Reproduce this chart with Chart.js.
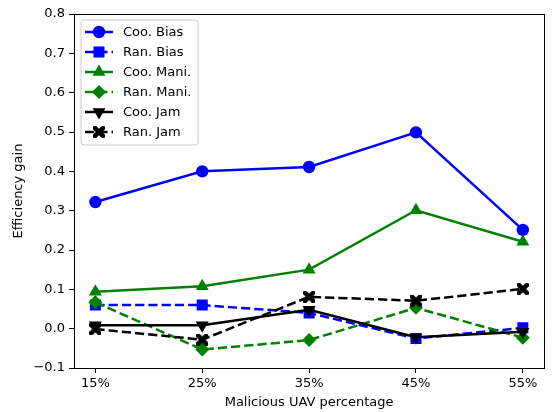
<!DOCTYPE html>
<html>
<head>
<meta charset="utf-8">
<script src="https://cdn.jsdelivr.net/npm/chart.js@4/dist/chart.umd.min.js"></script>
<style>
  html, body { margin: 0; padding: 0; background: #fff; }
  #wrap { width: 552px; height: 412px; }
</style>
</head>
<body>
<div id="wrap"><canvas id="c" width="552" height="412"></canvas></div>
<script>
// Malicious UAV percentage categories and efficiency gains per attack type
const categories = ['15%', '25%', '35%', '45%', '55%'];
const cooBias = [0.322, 0.400, 0.411, 0.499, 0.251];
const ranBias = [0.060, 0.060, 0.040, -0.025, 0.002];
const cooMani = [0.094, 0.108, 0.150, 0.301, 0.221];
const ranMani = [0.067, -0.053, -0.029, 0.053, -0.023];
const cooJam = [0.009, 0.009, 0.048, -0.022, -0.008];
const ranJam = [-0.001, -0.028, 0.081, 0.071, 0.101];
const yTickValues = [-0.1, 0, 0.1, 0.2, 0.3, 0.4, 0.5, 0.6, 0.7, 0.8];

const FONT = '"DejaVu Sans", sans-serif';
const DASH = [9.25, 4];
const LINE_W = 2.5;

// Filled "X" marker drawn on a small canvas
function makeXMarker(size, color) {
  const cv = document.createElement('canvas');
  cv.width = size; cv.height = size;
  const g = cv.getContext('2d');
  const s = size / 2;
  g.translate(s, s);
  g.rotate(Math.PI / 4);
  g.fillStyle = color;
  const w = size * 0.19, L = size * 0.66;
  g.beginPath();
  g.moveTo(-w, -L); g.lineTo(w, -L); g.lineTo(w, -w); g.lineTo(L, -w); g.lineTo(L, w);
  g.lineTo(w, w); g.lineTo(w, L); g.lineTo(-w, L); g.lineTo(-w, w); g.lineTo(-L, w);
  g.lineTo(-L, -w); g.lineTo(-w, -w); g.closePath();
  g.fill();
  return cv;
}
const xMarker = makeXMarker(12, '#000000');

const series = [
  { label: 'Coo. Bias', data: cooBias, color: '#0000ff', dash: [], style: 'circle', radius: 6.2 },
  { label: 'Ran. Bias', data: ranBias, color: '#0000ff', dash: DASH, style: 'rect', radius: 7.8 },
  { label: 'Coo. Mani.', data: cooMani, color: '#008000', dash: [], style: 'triangle', radius: 7.5 },
  { label: 'Ran. Mani.', data: ranMani, color: '#008000', dash: DASH, style: 'rectRot', radius: 7 },
  { label: 'Coo. Jam', data: cooJam, color: '#000000', dash: [], style: 'triangle', rotation: 180, radius: 7.5 },
  { label: 'Ran. Jam', data: ranJam, color: '#000000', dash: DASH, style: xMarker, radius: 6 }
];

const datasets = series.map((s, i) => ({
  label: s.label,
  data: s.data.map((v, j) => ({ x: j, y: v })),
  borderColor: s.color,
  backgroundColor: s.color,
  borderWidth: LINE_W,
  borderDash: s.dash,
  pointStyle: s.style,
  pointRotation: s.rotation || 0,
  pointRadius: s.radius,
  pointBorderWidth: 0,
  pointBackgroundColor: s.color,
  pointBorderColor: s.color,
  tension: 0,
  order: series.length - 1 - i
}));

// Frame around the plot area and legend inside it
const framePlugin = {
  id: 'frameLegend',
  afterDraw(chart) {
    const ctx = chart.ctx, a = chart.chartArea;
    ctx.save();
    ctx.strokeStyle = '#000';
    ctx.lineWidth = 1;
    ctx.strokeRect(Math.round(a.left) + 0.5, Math.round(a.top) + 0.5,
      Math.round(a.right - a.left), Math.round(a.bottom - a.top));

    // legend box
    const bx = a.left + 7, by = a.top + 6, bw = 117, bh = 125, rr = 3;
    ctx.beginPath();
    ctx.moveTo(bx + rr, by);
    ctx.arcTo(bx + bw, by, bx + bw, by + bh, rr);
    ctx.arcTo(bx + bw, by + bh, bx, by + bh, rr);
    ctx.arcTo(bx, by + bh, bx, by, rr);
    ctx.arcTo(bx, by, bx + bw, by, rr);
    ctx.closePath();
    ctx.fillStyle = 'rgba(255,255,255,0.8)';
    ctx.fill();
    ctx.strokeStyle = '#cccccc';
    ctx.lineWidth = 1;
    ctx.stroke();

    ctx.font = '13px ' + FONT;
    ctx.textBaseline = 'middle';
    ctx.textAlign = 'left';
    series.forEach((s, i) => {
      const y = by + 12 + i * 20;
      const x0 = bx + 4, x1 = bx + 32, xm = (x0 + x1) / 2;
      ctx.strokeStyle = s.color;
      ctx.lineWidth = LINE_W;
      ctx.setLineDash(s.dash);
      ctx.beginPath(); ctx.moveTo(x0, y); ctx.lineTo(x1, y); ctx.stroke();
      ctx.setLineDash([]);
      ctx.fillStyle = s.color;
      Chart.helpers.drawPoint(ctx, {
        pointStyle: s.style, rotation: s.rotation || 0, radius: s.radius, borderWidth: 0
      }, xm, y);
      ctx.fillStyle = '#000';
      ctx.fillText(s.label, bx + 42, y + 0.5);
    });
    ctx.restore();
  }
};

new Chart(document.getElementById('c'), {
  type: 'line',
  data: { datasets },
  plugins: [framePlugin],
  options: {
    responsive: false,
    animation: false,
    devicePixelRatio: 1,
    layout: { padding: { top: 14, right: 4, left: 0, bottom: 0 } },
    plugins: { legend: { display: false }, tooltip: { enabled: false } },
    scales: {
      x: {
        type: 'linear',
        min: -0.2, max: 4.2,
        afterBuildTicks(scale) { scale.ticks = categories.map((_, i) => ({ value: i })); },
        afterFit(scale) { scale.height = 44; },
        ticks: {
          callback: (v) => categories[v] ?? '',
          color: '#000', font: { family: FONT, size: 13 }, padding: 3, maxRotation: 0
        },
        grid: { display: true, drawOnChartArea: false, tickLength: 5, tickColor: '#000' },
        border: { display: true, color: '#000' },
        title: { display: true, text: 'Malicious UAV percentage', color: '#000',
          font: { family: FONT, size: 13 }, padding: { top: 0, bottom: 2 } }
      },
      y: {
        type: 'linear',
        min: -0.1, max: 0.8,
        afterBuildTicks(scale) { scale.ticks = yTickValues.map(v => ({ value: v })); },
        afterFit(scale) { scale.width = 74; },
        ticks: {
          callback: (v) => (v < 0 ? '\u2212' + Math.abs(v).toFixed(1) : v.toFixed(1)),
          color: '#000', font: { family: FONT, size: 13 }, padding: 4
        },
        grid: { display: true, drawOnChartArea: false, tickLength: 5, tickColor: '#000' },
        border: { display: true, color: '#000' },
        title: { display: true, text: 'Efficiency gain', color: '#000',
          font: { family: FONT, size: 13 }, padding: { top: 11, bottom: 0 } }
      }
    }
  }
});
</script>
</body>
</html>
